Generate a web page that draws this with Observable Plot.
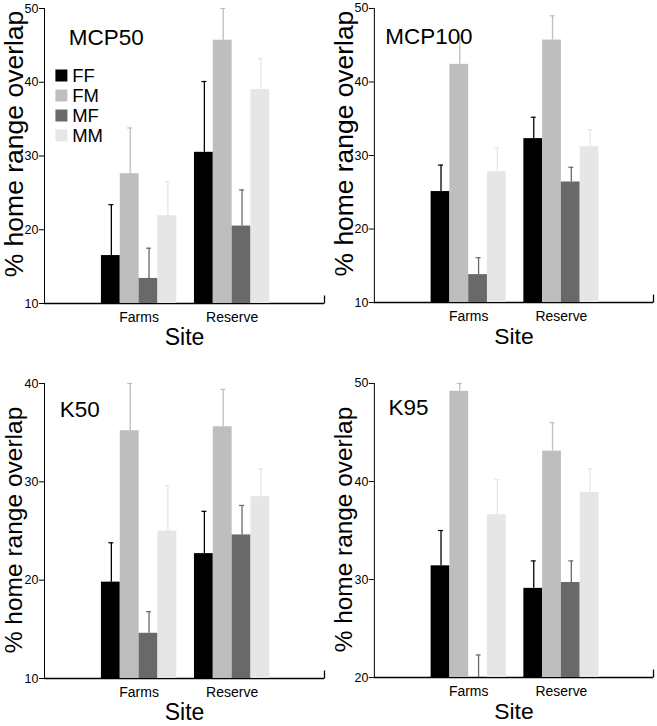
<!DOCTYPE html>
<html><head><meta charset="utf-8">
<script src="https://cdn.jsdelivr.net/npm/d3@7"></script>
<script src="https://cdn.jsdelivr.net/npm/@observablehq/plot@0.6"></script>
<style>
html,body{margin:0;padding:0;background:#fff;overflow:hidden;}
#fig{position:relative;width:657px;height:726px;}
.panel{position:absolute;}
.panel svg{overflow:visible;}
[aria-label^="x-axis"] text{font-size:14px;}
</style></head><body><div id="fig"></div>
<script>
const sites = ["Farms", "Reserve"];
const groups = ["FF", "FM", "MF", "MM"];
const groupColors = ["#000000", "#bebebe", "#696969", "#e6e6e6"];
const panelNames = ["MCP50", "MCP100", "K50", "K95"];
// order: Farms FF, FM, MF, MM, then Reserve FF, FM, MF, MM
const mcp50Mean  = [16.5, 27.6, 13.4, 21.9, 30.5, 45.7, 20.5, 39.0];
const mcp50Upper = [23.4, 33.8, 17.5, 26.5, 40.1, 50.0, 25.4, 43.2];
const mcp100Mean  = [25.1, 42.4, 13.8, 27.8, 32.3, 45.7, 26.4, 31.2];
const mcp100Upper = [28.7, 46.3, 16.1, 31.1, 35.2, 49.0, 28.4, 33.5];
const k50Mean  = [19.8, 35.2, 14.6, 25.0, 22.7, 35.6, 24.6, 28.5];
const k50Upper = [23.8, 40.0, 16.8, 29.6, 27.0, 39.4, 27.6, 31.3];
const k95Mean  = [31.4, 49.2, 18.5, 36.6, 29.1, 43.1, 29.7, 38.9];
const k95Upper = [35.0, 50.0, 22.3, 40.2, 31.9, 46.0, 31.9, 41.3];
const mcpTicks = [10, 20, 30, 40, 50];
const k50Ticks = [10, 20, 30, 40];
const k95Ticks = [20, 30, 40, 50];
const yTitle = "% home range overlap";
const xTitle = "Site";

const FONT = "'Liberation Sans', Arial, Helvetica, sans-serif";
const fig = document.getElementById("fig");

function panel({name, mean, upper, ticks, left, top, nameDx, nameDy, yTitleSize, yTitleDy, siteDy}) {
  const W = 328, H = 351, mL = 44, mR = 4, mT = 8, mB = 48;
  const fw = W - mL - mR, fh = H - mT - mB;
  const pi = 0.19, po = 0.6, align = 0.51;
  const xb = d3.scaleBand(sites, [mL, W - mR]).paddingInner(pi).paddingOuter(po).align(align);
  const bw = xb.bandwidth(), q = bw / groups.length;
  const rows = sites.flatMap((s, si) => groups.map((g, gi) => ({site: s, group: g, mean: mean[si * 4 + gi], upper: upper[si * 4 + gi]})));
  const y0 = ticks[0];
  const marks = [
    Plot.frame({stroke: "#000", strokeWidth: 1.3, strokeDasharray: `0 ${fw + fh - 8} 8 ${fw + fh + 8}`}),
    Plot.ruleY([y0], {stroke: "#000", strokeWidth: 1.5})
  ];
  groups.forEach((g, gi) => {
    const d = rows.filter(r => r.group === g);
    const c = groupColors[gi];
    const center = (gi + 0.5) * q;
    marks.push(
      Plot.barY(d, {x: "site", y1: () => y0, y2: "mean", fill: c, insetLeft: gi * q, insetRight: (groups.length - 1 - gi) * q, clip: true}),
      Plot.ruleX(d, {x: "site", y1: "mean", y2: "upper", stroke: c, strokeWidth: 1.3, dx: center - bw / 2 + 0.5, clip: true}),
      Plot.tickY(d, {x: "site", y: "upper", stroke: c, strokeWidth: 1.2, insetLeft: center - 2, insetRight: bw - center - 3})
    );
  });
  marks.push(
    Plot.text([name], {text: d => d, frameAnchor: "top-left", lineAnchor: "middle", dx: nameDx, dy: nameDy, textAnchor: "start", fontSize: 22.5, fill: "#000"}),
    Plot.text([yTitle], {text: d => d, frameAnchor: "left", lineAnchor: "middle", rotate: -90, dx: -30, dy: yTitleDy, fontSize: yTitleSize, textAnchor: "middle", fill: "#000"}),
    Plot.text([xTitle], {text: d => d, frameAnchor: "bottom", lineAnchor: "middle", dy: siteDy, fontSize: 23, fill: "#000"})
  );
  const p = Plot.plot({
    width: W, height: H, marginLeft: mL, marginRight: mR, marginTop: mT, marginBottom: mB,
    style: {fontFamily: FONT, fontSize: "12.5px", color: "#000", background: "transparent", overflow: "visible"},
    x: {domain: sites, paddingInner: pi, paddingOuter: po, align, round: false, tickSize: 0, tickPadding: 9, label: null},
    y: {domain: [ticks[0], ticks[ticks.length - 1]], ticks, tickSize: 5, tickPadding: 1, line: true, label: null},
    marks
  });
  const div = document.createElement("div");
  div.className = "panel";
  div.style.left = left + "px";
  div.style.top = top + "px";
  div.appendChild(p);
  fig.appendChild(div);
}

panel({name: panelNames[0], mean: mcp50Mean, upper: mcp50Upper, ticks: mcpTicks, left: 0, top: 0, nameDx: 24.3, nameDy: 29.6, yTitleSize: 26.5, yTitleDy: -12, siteDy: 34.6});
panel({name: panelNames[1], mean: mcp100Mean, upper: mcp100Upper, ticks: mcpTicks, left: 330, top: 0, nameDx: 11, nameDy: 28, yTitleSize: 26.5, yTitleDy: -12, siteDy: 34.6});
panel({name: panelNames[2], mean: k50Mean, upper: k50Upper, ticks: k50Ticks, left: 0, top: 375, nameDx: 15.3, nameDy: 26, yTitleSize: 24.5, yTitleDy: -1, siteDy: 34.3});
panel({name: panelNames[3], mean: k95Mean, upper: k95Upper, ticks: k95Ticks, left: 330, top: 375, nameDx: 14.3, nameDy: 24.5, yTitleSize: 24.5, yTitleDy: -1, siteDy: 34.3});

// legend inside the MCP50 panel
const legend = Plot.plot({
  width: 70, height: 83.2, marginLeft: 10.9, marginRight: 0, marginTop: 10.8, marginBottom: 10.8,
  style: {fontFamily: FONT, color: "#000", background: "transparent", overflow: "visible"},
  y: {type: "point", domain: groups, padding: 0, axis: null},
  color: {domain: groups, range: groupColors},
  marks: [
    Plot.dot(groups, {y: d => d, fill: d => d, symbol: "square", r: 6.77, frameAnchor: "left"}),
    Plot.text(groups, {y: d => d, text: d => d, frameAnchor: "left", lineAnchor: "middle", dx: 10.8, dy: 1, textAnchor: "start", fontSize: 18.5, fill: "#000"})
  ]
});
const ld = document.createElement("div");
ld.className = "panel";
ld.style.left = "50px";
ld.style.top = "63px";
ld.appendChild(legend);
fig.appendChild(ld);
</script></body></html>
